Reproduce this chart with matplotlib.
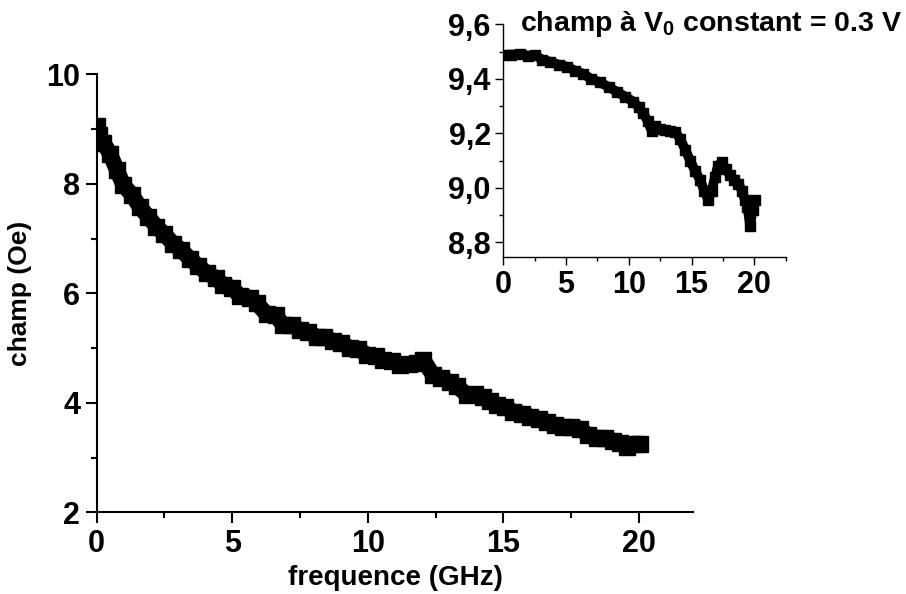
import matplotlib
matplotlib.use("Agg")
import matplotlib.pyplot as plt
from matplotlib.ticker import MultipleLocator

plt.rcParams['font.family'] = ['Liberation Sans', 'DejaVu Sans']
plt.rcParams['font.weight'] = 'bold'
plt.rcParams['mathtext.fontset'] = 'custom'
plt.rcParams['mathtext.rm'] = 'Liberation Sans:bold'
plt.rcParams['mathtext.it'] = 'Liberation Sans:bold'
plt.rcParams['mathtext.bf'] = 'Liberation Sans:bold'

# main curve: frequence (GHz) vs champ (Oe)
freq_main = [0.02, 0.1, 0.25, 0.49, 0.75, 0.98, 1.3, 1.6, 1.9, 2.2, 2.5, 2.83, 3.1, 3.44,
             3.75, 4.06, 4.4, 4.67, 5.0, 5.28, 5.65, 5.9, 6.27, 6.6, 6.88, 7.2, 7.5, 7.8,
             8.11, 8.4, 8.72, 9.0, 9.34, 9.65, 9.96, 10.3, 10.57, 10.9, 11.18, 11.5, 11.8,
             12.05, 12.41, 12.7, 13.03, 13.3, 13.64, 13.95, 14.26, 14.5, 14.75, 15.05,
             15.36, 15.7, 15.98, 16.3, 16.59, 16.9, 17.2, 17.5, 17.82, 18.1, 18.44, 18.75,
             19.05, 19.3, 19.54, 19.8, 20.03]
champ_main = [9.05, 8.9, 8.75, 8.55, 8.25, 7.98, 7.8, 7.57, 7.4, 7.22, 7.08, 6.9, 6.8, 6.63,
              6.5, 6.37, 6.28, 6.15, 6.1, 5.95, 5.92, 5.82, 5.62, 5.6, 5.42, 5.42, 5.33, 5.3,
              5.2, 5.2, 5.13, 5.1, 5.0, 4.98, 4.88, 4.85, 4.78, 4.76, 4.69, 4.7, 4.72,
              4.78, 4.5, 4.45, 4.38, 4.3, 4.15, 4.16, 4.1, 4.03, 3.96, 3.92, 3.84, 3.8,
              3.75, 3.7, 3.65, 3.6, 3.56, 3.55, 3.53, 3.42, 3.36, 3.35, 3.31, 3.27,
              3.2, 3.25, 3.25]

# inset curve: champ at V0 constant = 0.3 V
freq_in = [0.0, 0.6, 1.33, 2.0, 2.52, 3.1, 3.72, 4.4, 5.05, 5.7, 6.37, 7.0, 7.7, 8.4, 9.03,
           9.7, 10.36, 10.8, 11.16, 11.5, 11.82, 12.1, 12.49, 12.9, 13.28, 13.7, 14.08,
           14.5, 14.88, 15.3, 15.67, 16.0, 16.33, 16.6, 16.87, 17.1, 17.4, 17.7, 18.06,
           18.4, 18.73, 19.0, 19.26, 19.45, 19.66, 19.85, 20.06]
champ_in = [9.487, 9.489, 9.49, 9.485, 9.488, 9.47, 9.463, 9.452, 9.445, 9.43, 9.418, 9.4,
            9.387, 9.37, 9.353, 9.335, 9.316, 9.296, 9.273, 9.245, 9.21, 9.225, 9.216, 9.212,
            9.21, 9.205, 9.18, 9.14, 9.1, 9.06, 9.03, 8.99, 8.955, 8.99, 9.04, 9.08, 9.095,
            9.07, 9.047, 9.03, 9.015, 8.99, 8.955, 8.93, 8.86, 8.92, 8.955]

fig = plt.figure(figsize=(9.06, 5.94), dpi=100)

ax = fig.add_axes([0.1067, 0.1375, 0.6585, 0.7374])
ax.plot(freq_main, champ_main, color='black', lw=11.5, marker='s', ms=11,
        solid_joinstyle='round', solid_capstyle='butt')
ax.set_xlim(0, 22)
ax.set_ylim(2, 10)
ax.xaxis.set_major_locator(MultipleLocator(5))
ax.xaxis.set_minor_locator(MultipleLocator(2.5))
ax.yaxis.set_major_locator(MultipleLocator(2))
ax.yaxis.set_minor_locator(MultipleLocator(1))
for s in ['top', 'right']:
    ax.spines[s].set_visible(False)
for s in ['left', 'bottom']:
    ax.spines[s].set_linewidth(1.5)
ax.tick_params(which='major', direction='out', length=8, width=1.5, labelsize=22, pad=4)
ax.tick_params(which='minor', direction='out', length=4, width=1.5)
for lab in ax.get_xticklabels() + ax.get_yticklabels():
    lab.set_fontweight('bold')
ax.set_xlabel('frequence (GHz)', fontsize=20, fontweight='bold', labelpad=4)
ax.set_ylabel('champ (Oe)', fontsize=19, fontweight='bold', labelpad=10)

ins = fig.add_axes([0.5555, 0.5668, 0.3118, 0.3923])
ins.plot(freq_in, champ_in, color='black', lw=7, marker='s', ms=6.5,
         solid_joinstyle='round', solid_capstyle='butt')
ins.set_xlim(0, 22.5)
ins.set_ylim(8.745, 9.6)
ins.xaxis.set_major_locator(MultipleLocator(5))
ins.xaxis.set_minor_locator(MultipleLocator(2.5))
ins.yaxis.set_major_locator(MultipleLocator(0.2))
ins.yaxis.set_minor_locator(MultipleLocator(0.1))
ins.yaxis.set_major_formatter(plt.FuncFormatter(lambda v, p: f"{v:.1f}".replace('.', ',')))
for s in ['top', 'right']:
    ins.spines[s].set_visible(False)
for s in ['left', 'bottom']:
    ins.spines[s].set_linewidth(1.0)
ins.patch.set_alpha(0)
ins.tick_params(which='major', direction='out', length=6, width=1.0, labelsize=22, pad=3)
ins.tick_params(which='minor', direction='out', length=3, width=1.0)
for lab in ins.get_xticklabels() + ins.get_yticklabels():
    lab.set_fontweight('bold')
ins.text(0.06, 1.0, 'champ à V$_{0}$ constant = 0.3 V', transform=ins.transAxes,
         fontsize=20.5, fontweight='bold', ha='left', va='center')

fig.savefig('out.png', dpi=100)
